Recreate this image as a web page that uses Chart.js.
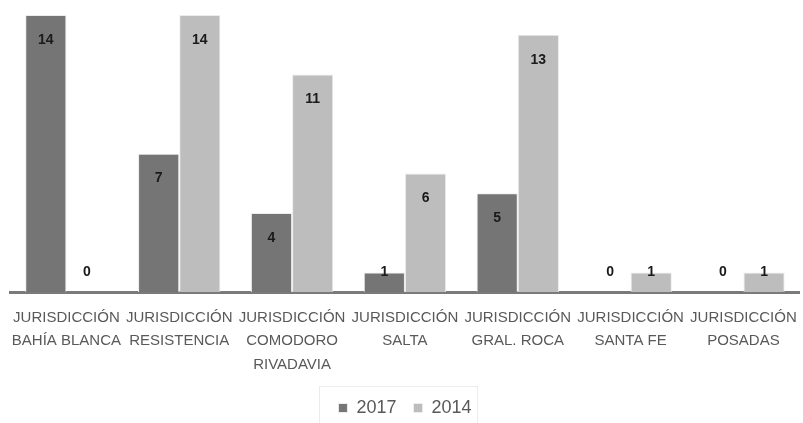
<!DOCTYPE html>
<html>
<head>
<meta charset="utf-8">
<script src="https://cdn.jsdelivr.net/npm/chart.js@4"></script>
<style>
  html, body { margin: 0; padding: 0; background: #fff; overflow: hidden; }
  #wrap { width: 803px; height: 427px; }
</style>
</head>
<body>
<div id="wrap"><canvas id="jurChart"></canvas></div>
<script>
const jurisdicciones = [
  ['JURISDICCIÓN', 'BAHÍA BLANCA'],
  ['JURISDICCIÓN', 'RESISTENCIA'],
  ['JURISDICCIÓN', 'COMODORO', 'RIVADAVIA'],
  ['JURISDICCIÓN', 'SALTA'],
  ['JURISDICCIÓN', 'GRAL. ROCA'],
  ['JURISDICCIÓN', 'SANTA FE'],
  ['JURISDICCIÓN', 'POSADAS']
];
const valores2017 = [14, 7, 4, 1, 5, 0, 0];
const valores2014 = [0, 14, 11, 6, 13, 1, 1];

// value labels drawn just inside the top of each bar, kept above the axis for short bars
const barValues = {
  id: 'barValues',
  afterDatasetsDraw(chart) {
    const ctx = chart.ctx;
    const base = chart.scales.y.getPixelForValue(0);
    ctx.save();
    ctx.font = 'bold 14px "Liberation Sans", Arial, sans-serif';
    ctx.fillStyle = '#1a1a1a';
    ctx.textAlign = 'center';
    ctx.textBaseline = 'middle';
    chart.data.datasets.forEach((ds, i) => {
      chart.getDatasetMeta(i).data.forEach((bar, j) => {
        const y = Math.min(bar.y + 25, base - 20);
        ctx.fillText(String(ds.data[j]), bar.x, y);
      });
    });
    ctx.restore();
  }
};

// faint frame around the legend entries
const legendFrame = {
  id: 'legendFrame',
  afterDraw(chart) {
    const boxes = chart.legend.legendHitBoxes;
    if (!boxes || !boxes.length) return;
    const left = Math.min(...boxes.map(b => b.left)) - 19;
    const right = Math.max(...boxes.map(b => b.left + b.width)) + 6;
    const mid = boxes[0].top + boxes[0].height / 2;
    const ctx = chart.ctx;
    ctx.save();
    ctx.strokeStyle = '#ececec';
    ctx.lineWidth = 1;
    ctx.strokeRect(Math.round(left) + 0.5, Math.round(mid - 22) + 0.5, right - left, chart.height);
    ctx.restore();
  }
};

new Chart(document.getElementById('jurChart'), {
  type: 'bar',
  data: {
    labels: jurisdicciones,
    datasets: [
      { label: '2017', data: valores2017, backgroundColor: '#757575', borderColor: '#ececec', borderWidth: 1 },
      { label: '2014', data: valores2014, backgroundColor: '#bdbdbd', borderColor: '#ececec', borderWidth: 1 }
    ]
  },
  options: {
    responsive: true,
    maintainAspectRatio: false,
    animation: false,
    layout: { padding: { top: 15, left: 10, right: 3, bottom: 0 } },
    datasets: { bar: { categoryPercentage: 0.73, barPercentage: 1 } },
    scales: {
      x: {
        grid: { display: false },
        border: { display: true, color: '#7a7a7a', width: 3 },
        ticks: {
          color: '#595959',
          font: { family: '"Liberation Sans", Arial, sans-serif', size: 15, lineHeight: 1.55 },
          maxRotation: 0,
          autoSkip: false,
          padding: 6
        }
      },
      y: { display: false, min: 0, max: 14 }
    },
    plugins: {
      legend: {
        position: 'bottom',
        labels: {
          color: '#595959',
          font: { family: '"Liberation Sans", Arial, sans-serif', size: 18 },
          boxWidth: 9,
          boxHeight: 9,
          padding: 17
        }
      },
      tooltip: { enabled: false }
    }
  },
  plugins: [barValues, legendFrame]
});
</script>
</body>
</html>
